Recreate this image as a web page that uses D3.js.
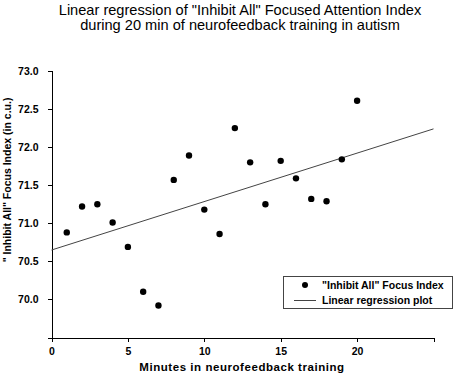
<!DOCTYPE html>
<html lang="en">
<head>
  <meta charset="UTF-8" />
  <title>Linear regression</title>
  <script src="https://cdn.jsdelivr.net/npm/d3@7"></script>
  <style>
    body { margin: 0; background: #fff; }
    text { font-family: "Liberation Sans", Arial, sans-serif; fill: #000; }
    .tick text { font-weight: bold; font-size: 10.5px; }
    .axis path, .axis line { stroke: #000; shape-rendering: crispEdges; }
  </style>
</head>
<body>
  <div id="chart"></div>
  <script>
    // minutes 1..20 and the focus index
    var minutes = [1, 2, 3, 4, 5, 6, 7, 8, 9, 10, 11, 12, 13, 14, 15, 16, 17, 18, 19, 20];
    var focus = [70.88, 71.22, 71.25, 71.01, 70.69, 70.10, 69.92, 71.57, 71.89, 71.18,
                 70.86, 72.25, 71.80, 71.25, 71.82, 71.59, 71.32, 71.29, 71.84, 72.61];
    var xTicks = [0, 5, 10, 15, 20, 25];
    var yTicks = [70.0, 70.5, 71.0, 71.5, 72.0, 72.5, 73.0];
    var titleLines = ['Linear regression of "Inhibit All" Focused Attention Index',
                      'during 20 min of neurofeedback training in autism'];
    var legendLabels = ['"Inhibit All" Focus Index', 'Linear regression plot'];

    var w = 454, h = 384;
    var svg = d3.select("#chart").append("svg")
      .attr("width", w)
      .attr("height", h);

    var x = d3.scaleLinear().domain([0, 25]).range([51.5, 433.5]);
    var y = d3.scaleLinear().domain([69.5, 73.0]).range([337.5, 71]);

    // title
    svg.selectAll(".title")
      .data(titleLines)
      .enter()
      .append("text")
      .attr("class", "title")
      .attr("x", 240)
      .attr("y", function(d, i) { return 15 + i * 14.5; })
      .attr("text-anchor", "middle")
      .attr("font-size", "14.6px")
      .text(function(d) { return d; });

    // axes
    svg.append("g")
      .attr("class", "axis")
      .attr("transform", "translate(0," + y(69.5) + ")")
      .call(d3.axisBottom(x).tickValues(xTicks).tickSizeOuter(0).tickSize(4)
        .tickFormat(function(d) { return d == 25 ? "" : d; }))
      .call(function(g) { g.selectAll("text").attr("dy", "1em"); });

    svg.append("g")
      .attr("class", "axis")
      .attr("transform", "translate(" + x(0) + ",0)")
      .call(d3.axisLeft(y).tickValues(yTicks).tickSizeOuter(0).tickSize(4)
        .tickFormat(d3.format(".1f")))
      .call(function(g) { g.selectAll("text").attr("x", -13); });

    // axis labels
    svg.append("text")
      .attr("x", 242)
      .attr("y", 371)
      .attr("text-anchor", "middle")
      .attr("font-weight", "bold")
      .attr("font-size", "11.5px")
      .attr("letter-spacing", "0.55px")
      .text("Minutes in neurofeedback training");

    svg.append("text")
      .attr("transform", "translate(11,180) rotate(-90)")
      .attr("text-anchor", "middle")
      .attr("font-weight", "bold")
      .attr("font-size", "10.5px")
      .text('" Inhibit All" Focus Index (in c.u.)');

    // least squares fit from the data
    var mx = d3.mean(minutes), my = d3.mean(focus);
    var sxy = d3.sum(minutes, function(d, i) { return (d - mx) * (focus[i] - my); });
    var sxx = d3.sum(minutes, function(d) { return (d - mx) * (d - mx); });
    var slope = sxy / sxx;
    var intercept = my - slope * mx;

    svg.append("line")
      .attr("x1", x(0))
      .attr("y1", y(intercept))
      .attr("x2", x(25))
      .attr("y2", y(intercept + slope * 25))
      .attr("stroke", "#444")
      .attr("stroke-width", 1);

    svg.selectAll("circle.pt")
      .data(minutes)
      .enter()
      .append("circle")
      .attr("class", "pt")
      .attr("cx", function(d) { return x(d); })
      .attr("cy", function(d, i) { return y(focus[i]); })
      .attr("r", 3.2)
      .attr("fill", "#000");

    // legend
    var legend = svg.append("g");
    legend.append("rect")
      .attr("x", 283.5)
      .attr("y", 276.5)
      .attr("width", 169)
      .attr("height", 32)
      .attr("fill", "#fff")
      .attr("stroke", "#444");
    legend.append("circle")
      .attr("cx", 305)
      .attr("cy", 285)
      .attr("r", 3)
      .attr("fill", "#000");
    legend.append("line")
      .attr("x1", 294).attr("x2", 316)
      .attr("y1", 300.5).attr("y2", 300.5)
      .attr("stroke", "#444");
    legend.selectAll("text")
      .data(legendLabels)
      .enter()
      .append("text")
      .attr("x", 322)
      .attr("y", function(d, i) { return 289 + i * 15; })
      .attr("font-weight", "bold")
      .attr("font-size", "10.5px")
      .text(function(d) { return d; });
  </script>
</body>
</html>
